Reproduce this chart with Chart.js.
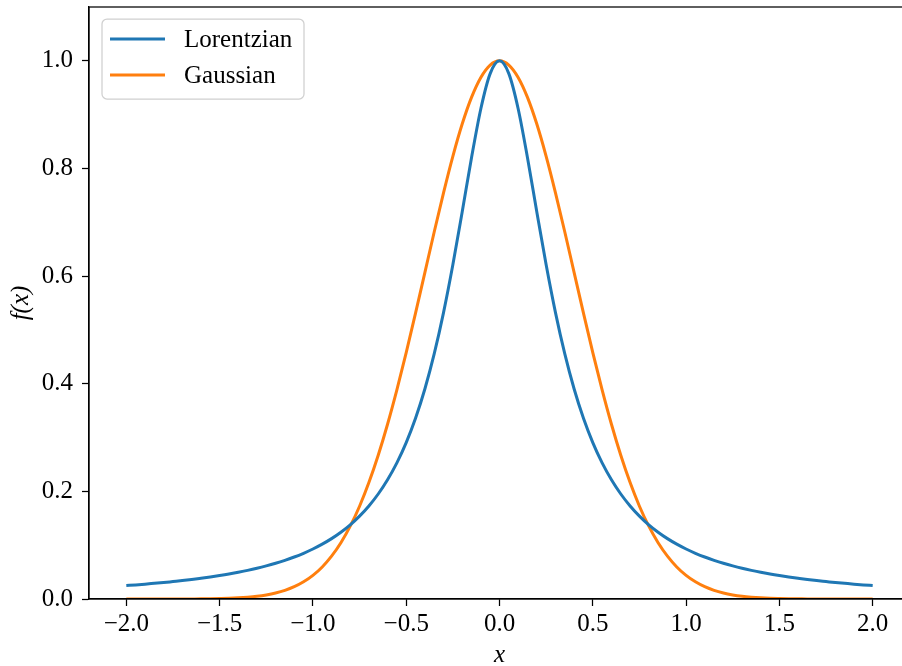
<!DOCTYPE html>
<html>
<head>
<meta charset="utf-8">
<title>Lorentzian vs Gaussian</title>
<script src="https://cdn.jsdelivr.net/npm/chart.js@4.4.1/dist/chart.umd.min.js"></script>
<style>
  html, body { margin: 0; padding: 0; background: #fff; overflow: hidden; }
  canvas { display: block; }
</style>
</head>
<body>
<canvas id="chart" width="911" height="666"></canvas>
<script>
// Sample positions along x
const xValues = [
  -2.00, -1.95, -1.90, -1.85, -1.80, -1.75, -1.70, -1.65, -1.60, -1.55,
  -1.50, -1.45, -1.40, -1.35, -1.30, -1.25, -1.20, -1.15, -1.10, -1.05,
  -1.00, -0.95, -0.90, -0.85, -0.80, -0.75, -0.70, -0.65, -0.60, -0.55,
  -0.50, -0.45, -0.40, -0.35, -0.30, -0.25, -0.20, -0.15, -0.10, -0.05,
   0.00,
   0.05,  0.10,  0.15,  0.20,  0.25,  0.30,  0.35,  0.40,  0.45,  0.50,
   0.55,  0.60,  0.65,  0.70,  0.75,  0.80,  0.85,  0.90,  0.95,  1.00,
   1.05,  1.10,  1.15,  1.20,  1.25,  1.30,  1.35,  1.40,  1.45,  1.50,
   1.55,  1.60,  1.65,  1.70,  1.75,  1.80,  1.85,  1.90,  1.95,  2.00
];

// Lorentzian profile values at each x
const lorentzian = [
  0.0250, 0.0262, 0.0276, 0.0291, 0.0306, 0.0324, 0.0342, 0.0362, 0.0385, 0.0409,
  0.0435, 0.0464, 0.0497, 0.0532, 0.0571, 0.0615, 0.0664, 0.0719, 0.0780, 0.0850,
  0.0929, 0.1019, 0.1122, 0.1241, 0.1379, 0.1540, 0.1729, 0.1951, 0.2215, 0.2529,
  0.2906, 0.3358, 0.3902, 0.4553, 0.5322, 0.6210, 0.7191, 0.8199, 0.9110, 0.9762,
  1.0000,
  0.9762, 0.9110, 0.8199, 0.7191, 0.6210, 0.5322, 0.4553, 0.3902, 0.3358, 0.2906,
  0.2529, 0.2215, 0.1951, 0.1729, 0.1540, 0.1379, 0.1241, 0.1122, 0.1019, 0.0929,
  0.0850, 0.0780, 0.0719, 0.0664, 0.0615, 0.0571, 0.0532, 0.0497, 0.0464, 0.0435,
  0.0409, 0.0385, 0.0362, 0.0342, 0.0324, 0.0306, 0.0291, 0.0276, 0.0262, 0.0250
];

// Gaussian profile values at each x
const gaussian = [
  0.0000, 0.0000, 0.0000, 0.0000, 0.0000, 0.0001, 0.0001, 0.0002, 0.0003, 0.0005,
  0.0009, 0.0014, 0.0022, 0.0034, 0.0051, 0.0076, 0.0111, 0.0160, 0.0228, 0.0319,
  0.0439, 0.0596, 0.0796, 0.1046, 0.1353, 0.1724, 0.2163, 0.2671, 0.3247, 0.3886,
  0.4578, 0.5311, 0.6065, 0.6819, 0.7548, 0.8226, 0.8825, 0.9321, 0.9692, 0.9922,
  1.0000,
  0.9922, 0.9692, 0.9321, 0.8825, 0.8226, 0.7548, 0.6819, 0.6065, 0.5311, 0.4578,
  0.3886, 0.3247, 0.2671, 0.2163, 0.1724, 0.1353, 0.1046, 0.0796, 0.0596, 0.0439,
  0.0319, 0.0228, 0.0160, 0.0111, 0.0076, 0.0051, 0.0034, 0.0022, 0.0014, 0.0009,
  0.0005, 0.0003, 0.0002, 0.0001, 0.0001, 0.0000, 0.0000, 0.0000, 0.0000, 0.0000
];

const xTicks = [-2.0, -1.5, -1.0, -0.5, 0.0, 0.5, 1.0, 1.5, 2.0];
const yTicks = [0.0, 0.2, 0.4, 0.6, 0.8, 1.0];

const seriesNames = ['Lorentzian', 'Gaussian'];
const seriesColors = ['#1f77b4', '#ff7f0e'];

const SERIF = "'Liberation Serif', 'Times New Roman', serif";

const toPoints = ys => xValues.map((x, i) => ({ x: x, y: ys[i] }));
const fmt = v => v.toFixed(1).replace('-', '\u2212');

// Keep the axis boxes at a fixed size with no extra label padding
const fixBox = (s, size) => {
  if (s.isHorizontal()) s.height = size; else s.width = size;
  s.paddingTop = 0; s.paddingBottom = 0; s.paddingLeft = 0; s.paddingRight = 0;
};

// Frame around the plotting area (top/right spines)
const framePlugin = {
  id: 'frame',
  afterDatasetsDraw(chart) {
    const { ctx, chartArea: a } = chart;
    ctx.save();
    ctx.strokeStyle = '#000';
    ctx.lineWidth = 1.25;
    ctx.strokeRect(a.left, a.top, a.right - a.left, a.bottom - a.top);
    ctx.restore();
  }
};

// Boxed legend in the upper-left corner of the plotting area
const boxLegendPlugin = {
  id: 'boxLegend',
  afterDraw(chart) {
    const { ctx, chartArea: a } = chart;
    const x0 = a.left + 13, y0 = a.top + 12, w = 202, h = 80, r = 5;
    ctx.save();
    ctx.beginPath();
    ctx.roundRect(x0, y0, w, h, r);
    ctx.fillStyle = 'rgba(255,255,255,0.8)';
    ctx.fill();
    ctx.strokeStyle = '#d0d0d0';
    ctx.lineWidth = 1.25;
    ctx.stroke();
    ctx.font = '25px ' + SERIF;
    ctx.textBaseline = 'middle';
    ctx.textAlign = 'left';
    chart.data.datasets.forEach((ds, i) => {
      const y = y0 + 20 + i * 36;
      ctx.beginPath();
      ctx.moveTo(x0 + 8, y);
      ctx.lineTo(x0 + 63, y);
      ctx.strokeStyle = ds.borderColor;
      ctx.lineWidth = 3;
      ctx.stroke();
      ctx.fillStyle = '#000';
      ctx.fillText(ds.label, x0 + 82, y + 1);
    });
    ctx.restore();
  }
};

new Chart(document.getElementById('chart'), {
  type: 'line',
  data: {
    datasets: [
      { label: seriesNames[0], data: toPoints(lorentzian), borderColor: seriesColors[0] },
      { label: seriesNames[1], data: toPoints(gaussian), borderColor: seriesColors[1] }
    ]
  },
  options: {
    responsive: false,
    animation: false,
    devicePixelRatio: 1,
    layout: { padding: { top: 7, right: 1, left: 0, bottom: 0 } },
    elements: {
      point: { radius: 0, hoverRadius: 0 },
      line: { borderWidth: 3, cubicInterpolationMode: 'monotone', fill: false }
    },
    plugins: {
      legend: { display: false },
      tooltip: { enabled: false }
    },
    scales: {
      x: {
        type: 'linear',
        min: -2.2,
        max: 2.2,
        afterBuildTicks: s => { s.ticks = xTicks.map(v => ({ value: v })); },
        afterFit: s => fixBox(s, 67),
        grid: { drawOnChartArea: false, drawTicks: true, tickLength: 7, tickColor: '#000', tickWidth: 1.25 },
        border: { display: true, color: '#000', width: 1.25, z: 1 },
        ticks: {
          color: '#000',
          font: { family: SERIF, size: 25 },
          padding: 3,
          maxRotation: 0,
          autoSkip: false,
          callback: v => fmt(v)
        },
        title: {
          display: true,
          text: 'x',
          color: '#000',
          font: { family: SERIF, size: 25, style: 'italic', lineHeight: 1 },
          padding: { top: 0, bottom: -2 }
        }
      },
      y: {
        type: 'linear',
        min: 0,
        max: 1.1,
        afterBuildTicks: s => { s.ticks = yTicks.map(v => ({ value: v })); },
        afterFit: s => fixBox(s, 89),
        grid: { drawOnChartArea: false, drawTicks: true, tickLength: 7, tickColor: '#000', tickWidth: 1.25 },
        border: { display: true, color: '#000', width: 1.25, z: 1 },
        ticks: {
          color: '#000',
          font: { family: SERIF, size: 25 },
          padding: 9,
          autoSkip: false,
          callback: v => fmt(v)
        },
        title: {
          display: true,
          text: 'f(x)',
          color: '#000',
          font: { family: SERIF, size: 25, style: 'italic', lineHeight: 1 },
          padding: { top: 9, bottom: 0 }
        }
      }
    }
  },
  plugins: [framePlugin, boxLegendPlugin]
});
</script>
</body>
</html>
